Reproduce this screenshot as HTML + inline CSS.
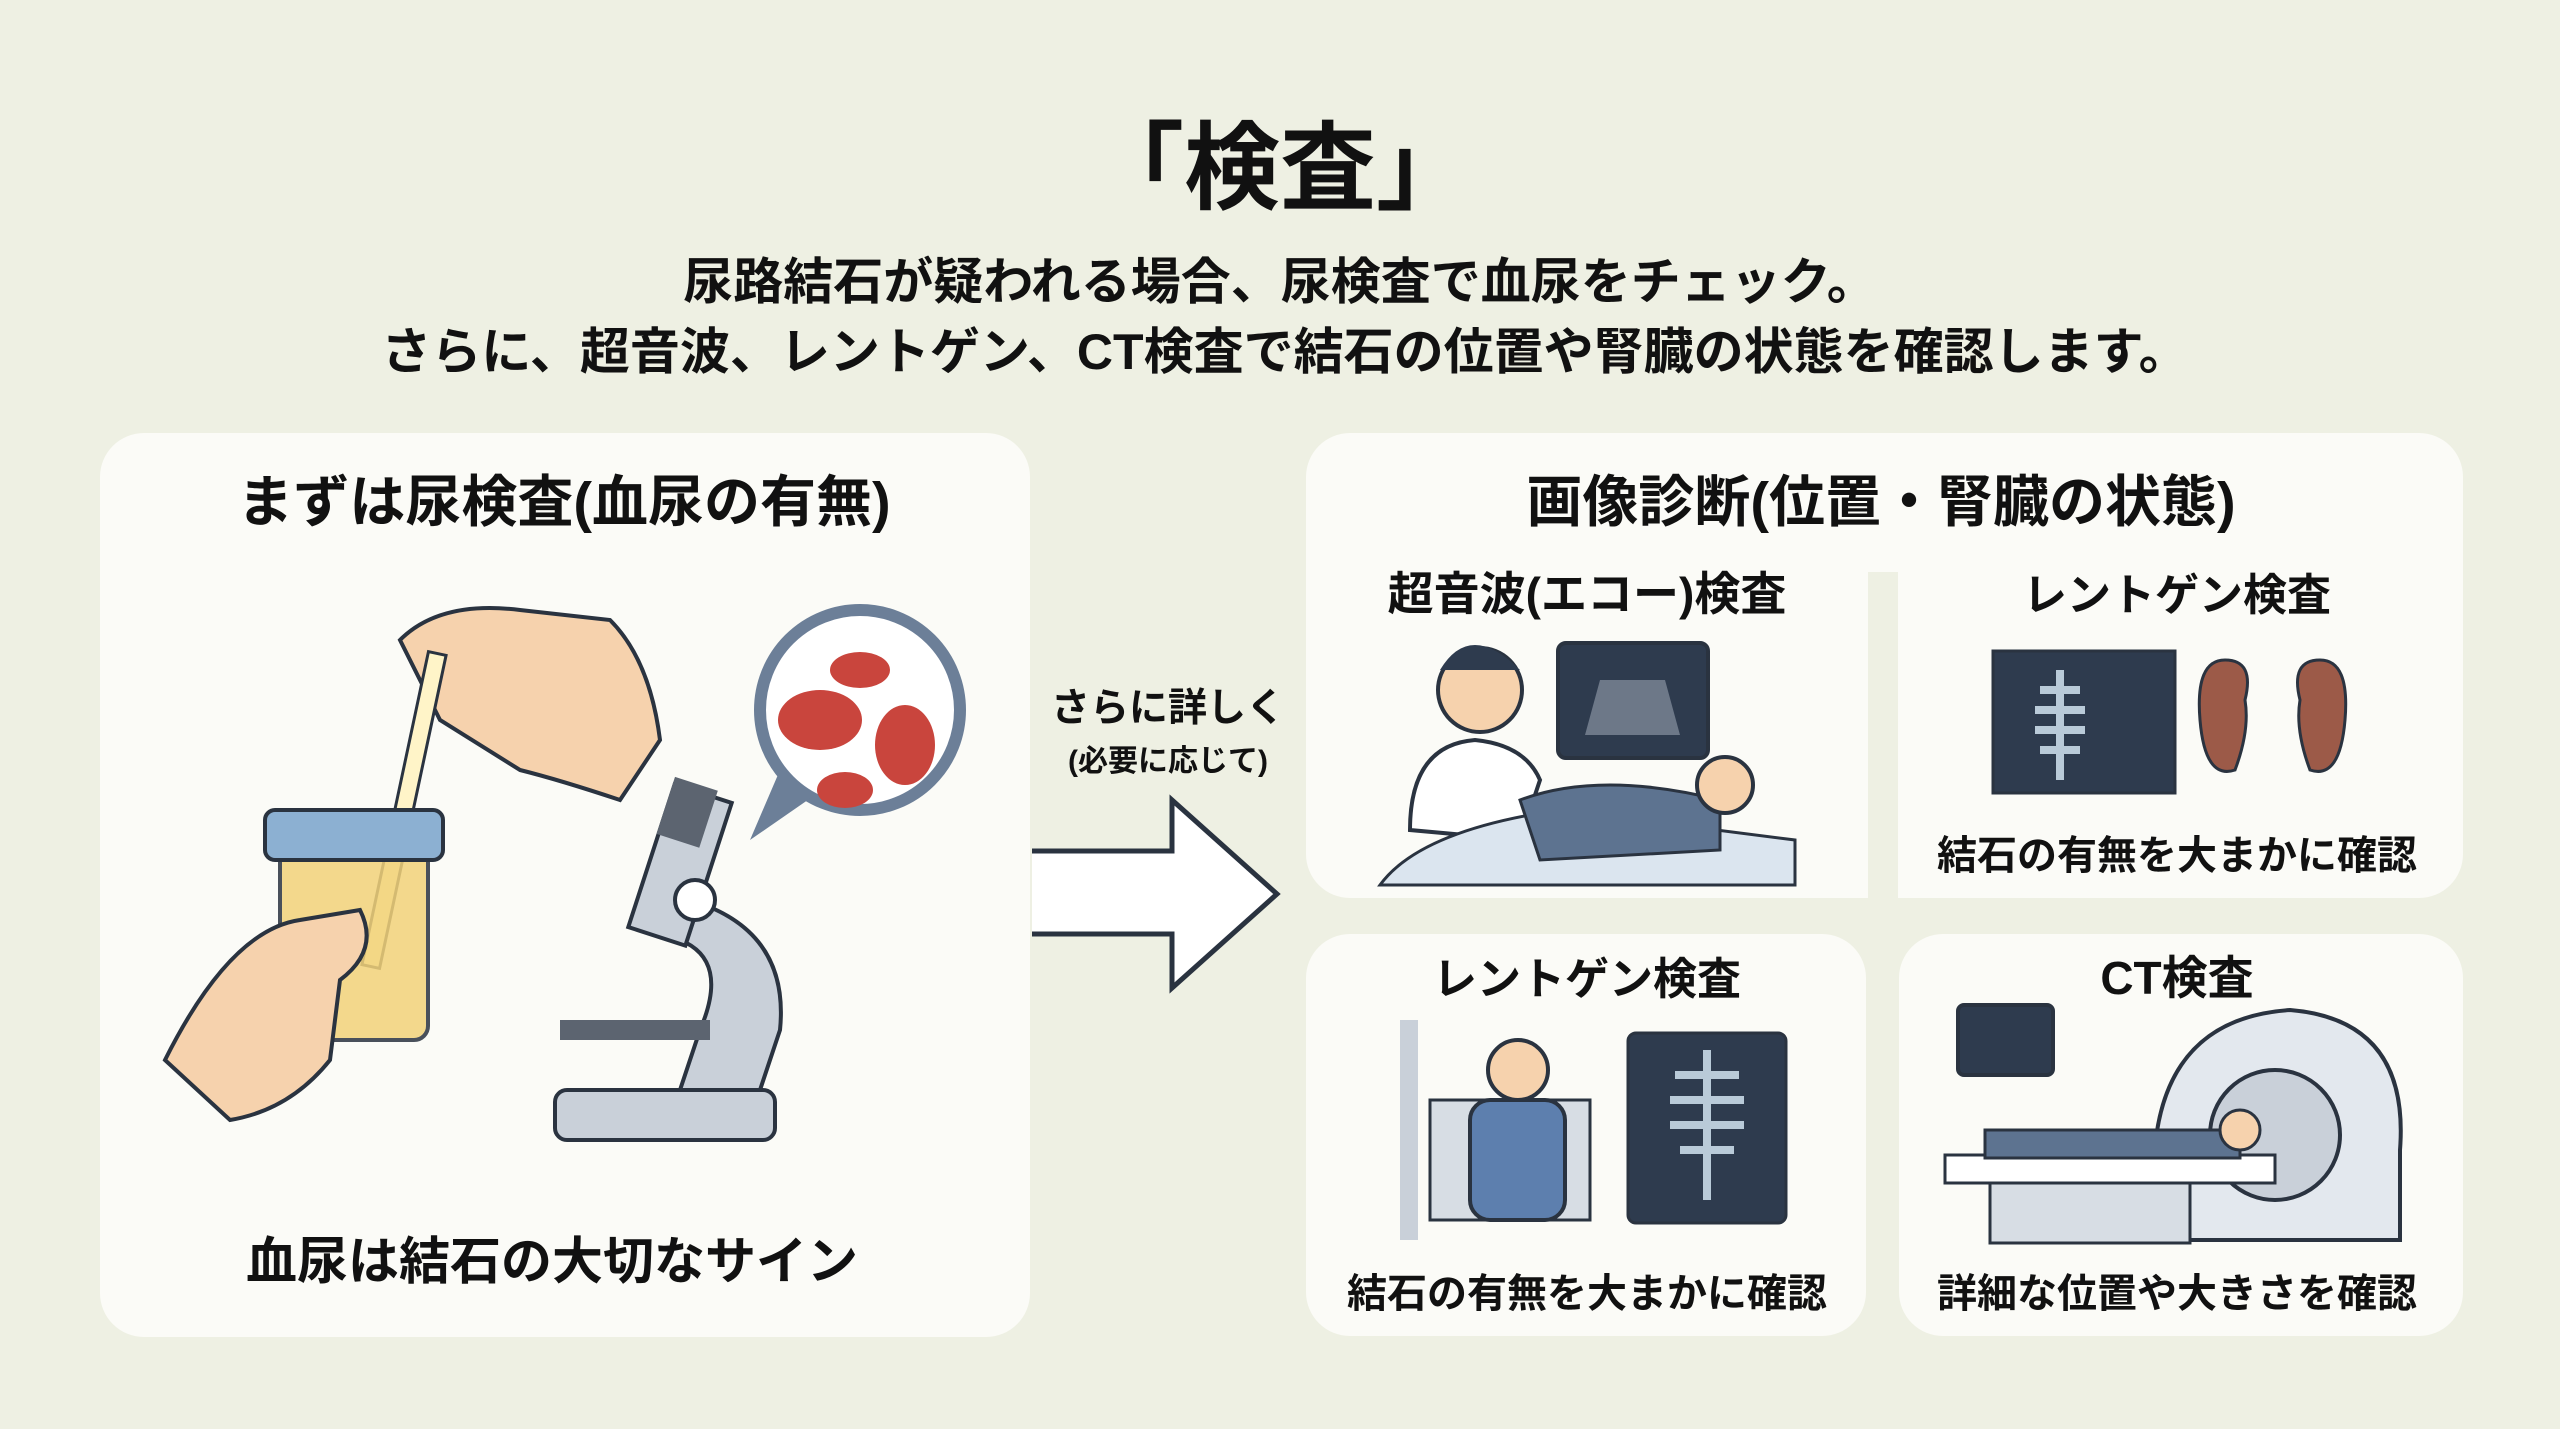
<!DOCTYPE html>
<html><head><meta charset="utf-8"><style>
html,body{margin:0;padding:0}
body{width:2560px;height:1429px;background:#eef0e3;position:relative;overflow:hidden;font-family:"Liberation Sans","Noto Sans CJK JP",sans-serif;color:#111}
.t{position:absolute;font-weight:bold;white-space:nowrap;transform:translate(-50%,-50%)}
.p{position:absolute;background:#fbfbf7;border-radius:44px}
svg{position:absolute;left:0;top:0}
</style></head><body>
<div class="p" style="left:100px;top:433px;width:930px;height:904px"></div>
<div class="p" style="left:1306px;top:433px;width:1157px;height:465px"></div>
<div style="position:absolute;left:1868px;top:572px;width:30px;height:326px;background:#eef0e3"></div>
<div class="p" style="left:1306px;top:934px;width:560px;height:402px"></div>
<div class="p" style="left:1899px;top:934px;width:564px;height:402px"></div>

<div class="t" style="left:1280px;top:160px;font-size:96px">「検査」</div>
<div class="t" style="left:1280px;top:278px;font-size:50px">尿路結石が疑われる場合、尿検査で血尿をチェック。</div>
<div class="t" style="left:1285px;top:348px;font-size:50px">さらに、超音波、レントゲン、CT検査で結石の位置や腎臓の状態を確認します。</div>
<div class="t" style="left:564px;top:498px;font-size:56px">まずは尿検査(血尿の有無)</div>
<div class="t" style="left:552px;top:1257px;font-size:51px">血尿は結石の大切なサイン</div>
<div class="t" style="left:1881px;top:498px;font-size:56px">画像診断(位置・腎臓の状態)</div>
<div class="t" style="left:1587px;top:591px;font-size:46px">超音波(エコー)検査</div>
<div class="t" style="left:2177px;top:591px;font-size:44px">レントゲン検査</div>
<div class="t" style="left:2177px;top:852px;font-size:40px">結石の有無を大まかに確認</div>
<div class="t" style="left:1587px;top:975px;font-size:44px">レントゲン検査</div>
<div class="t" style="left:2177px;top:975px;font-size:46px">CT検査</div>
<div class="t" style="left:1587px;top:1290px;font-size:40px">結石の有無を大まかに確認</div>
<div class="t" style="left:2177px;top:1290px;font-size:40px">詳細な位置や大きさを確認</div>
<div class="t" style="left:1168px;top:705px;font-size:39px">さらに詳しく</div>
<div class="t" style="left:1168px;top:758px;font-size:30px">(必要に応じて)</div>

<svg width="2560" height="1429" viewBox="0 0 2560 1429">
<path d="M1032 851 H1172 V800 L1277 894 L1172 988 V934 H1032" fill="#fff" stroke="#2a3340" stroke-width="5" stroke-linejoin="miter"/>
<path d="M400 640 Q440 600 520 610 L610 620 Q650 660 660 740 L620 800 Q560 780 520 770 L440 720 Z" fill="#f6d2ad" stroke="#2a3340" stroke-width="4"/>
<rect x="395" y="650" width="18" height="320" fill="#fff4c8" stroke="#2a3340" stroke-width="3" transform="rotate(12 404 810)"/>
<rect x="280" y="840" width="148" height="200" rx="14" fill="#f2d27a" opacity=".85" stroke="#2a3340" stroke-width="4"/>
<rect x="265" y="810" width="178" height="50" rx="10" fill="#8cb0d2" stroke="#2a3340" stroke-width="4"/>
<path d="M165 1060 Q230 930 300 920 L360 910 Q380 950 340 980 L330 1060 Q290 1110 230 1120 Z" fill="#f6d2ad" stroke="#2a3340" stroke-width="4"/>
<rect x="555" y="1090" width="220" height="50" rx="12" fill="#c9d0d9" stroke="#2a3340" stroke-width="4"/>
<path d="M690 900 Q790 930 780 1030 L760 1090 H680 L700 1030 Q730 960 680 940 Z" fill="#c9d0d9" stroke="#2a3340" stroke-width="4"/>
<rect x="560" y="1020" width="150" height="20" fill="#5c6470"/>
<rect x="650" y="790" width="60" height="150" fill="#c9d0d9" stroke="#2a3340" stroke-width="4" transform="rotate(18 680 865)"/>
<rect x="665" y="780" width="45" height="60" fill="#5c6470" transform="rotate(18 680 810)"/>
<circle cx="695" cy="900" r="20" fill="#fff" stroke="#2a3340" stroke-width="4"/>
<circle cx="860" cy="710" r="100" fill="#fff" stroke="#6c7f98" stroke-width="12"/>
<path d="M780 770 L750 840 L815 795 Z" fill="#6c7f98"/>
<ellipse cx="820" cy="720" rx="42" ry="30" fill="#c9453d"/>
<ellipse cx="905" cy="745" rx="30" ry="40" fill="#c9453d"/>
<ellipse cx="860" cy="670" rx="30" ry="18" fill="#c9453d"/>
<ellipse cx="845" cy="790" rx="28" ry="18" fill="#c9453d"/>
<rect x="1558" y="643" width="150" height="115" rx="8" fill="#2e3b4e" stroke="#2a3340" stroke-width="4"/>
<path d="M1600 680 L1665 680 L1680 735 L1585 735 Z" fill="#6d7888"/>
<circle cx="1480" cy="690" r="42" fill="#f6d2ad" stroke="#2a3340" stroke-width="4"/>
<path d="M1440 670 Q1470 620 1520 670 Z" fill="#2e3b4e"/>
<path d="M1410 830 Q1410 745 1475 740 Q1525 745 1540 780 L1520 840 Z" fill="#fff" stroke="#2a3340" stroke-width="4"/>
<path d="M1380 885 L1795 885 L1795 840 L1560 810 Q1420 830 1380 885 Z" fill="#dbe5ef" stroke="#2a3340" stroke-width="3"/>
<path d="M1520 800 Q1600 770 1720 800 L1720 850 L1540 860 Z" fill="#5d7390" stroke="#2a3340" stroke-width="3"/>
<circle cx="1725" cy="785" r="28" fill="#f6d2ad" stroke="#2a3340" stroke-width="4"/>
<rect x="1993" y="651" width="182" height="142" fill="#2e3b4e" stroke="#2a3340" stroke-width="3"/>
<path d="M2060 670 v110 M2040 690 h40 M2035 710 h50 M2035 730 h50 M2040 750 h40" stroke="#b9cad8" stroke-width="8"/>
<path d="M2225 660 Q2195 660 2200 720 Q2205 780 2235 770 Q2250 730 2245 700 Q2255 660 2225 660 Z" fill="#9c5a48" stroke="#2a3340" stroke-width="3"/>
<path d="M2320 660 Q2350 660 2345 720 Q2340 780 2310 770 Q2295 730 2300 700 Q2290 660 2320 660 Z" fill="#9c5a48" stroke="#2a3340" stroke-width="3"/>
<rect x="1400" y="1020" width="18" height="220" fill="#c9d0d9"/>
<rect x="1430" y="1100" width="160" height="120" fill="#d7dde4" stroke="#2a3340" stroke-width="3"/>
<circle cx="1518" cy="1070" r="30" fill="#f6d2ad" stroke="#2a3340" stroke-width="4"/>
<rect x="1470" y="1100" width="95" height="120" rx="20" fill="#5d7fae" stroke="#2a3340" stroke-width="4"/>
<rect x="1628" y="1033" width="158" height="190" rx="8" fill="#2e3b4e" stroke="#2a3340" stroke-width="3"/>
<path d="M1707 1050 v150 M1675 1075 h64 M1670 1100 h74 M1670 1125 h74 M1680 1150 h54" stroke="#b9cad8" stroke-width="8"/>
<rect x="1958" y="1005" width="95" height="70" rx="6" fill="#2e3b4e" stroke="#2a3340" stroke-width="4"/>
<path d="M2155 1210 Q2140 1020 2290 1010 Q2410 1020 2400 1150 L2400 1240 L2160 1240 Z" fill="#e3e8ee" stroke="#2a3340" stroke-width="4"/>
<circle cx="2275" cy="1135" r="65" fill="#c9d0d9" stroke="#2a3340" stroke-width="4"/>
<rect x="1945" y="1155" width="330" height="28" fill="#fff" stroke="#2a3340" stroke-width="3"/>
<rect x="1990" y="1183" width="200" height="60" fill="#d7dde4" stroke="#2a3340" stroke-width="3"/>
<path d="M1985 1130 L2240 1130 L2240 1158 L1985 1158 Z" fill="#5d7390" stroke="#2a3340" stroke-width="3"/>
<circle cx="2240" cy="1130" r="20" fill="#f6d2ad" stroke="#2a3340" stroke-width="3"/>
</svg>
</body></html>
